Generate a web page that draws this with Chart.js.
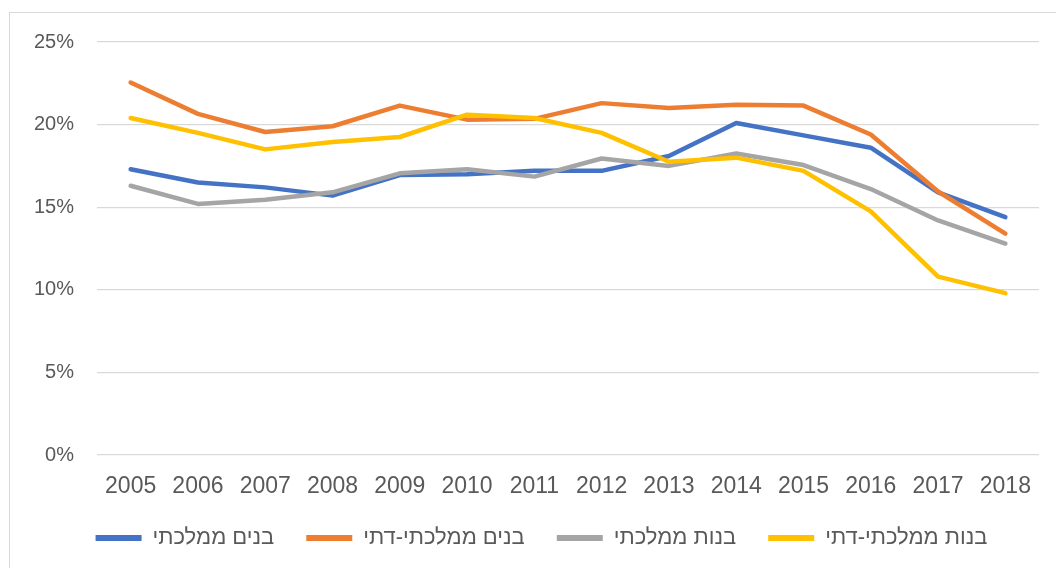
<!DOCTYPE html>
<html>
<head>
<meta charset="utf-8">
<script src="https://cdn.jsdelivr.net/npm/chart.js@4"></script>
<style>
  html, body { margin: 0; padding: 0; background: #fff; overflow: hidden; width: 1056px; height: 568px; }
  .frame { position: absolute; left: 9px; top: 12px; width: 1100px; height: 600px; border: 1px solid #d9d9d9; }
  #chartContainer { position: absolute; left: 10px; top: 13px; }
</style>
</head>
<body>
<div class="frame"></div>
<canvas id="chartContainer" width="1063" height="555"></canvas>
<script>
const years = ['2005', '2006', '2007', '2008', '2009', '2010', '2011', '2012', '2013', '2014', '2015', '2016', '2017', '2018'];

const boysState = [17.3, 16.5, 16.2, 15.7, 16.95, 17.0, 17.2, 17.2, 18.1, 20.1, 19.35, 18.6, 15.9, 14.4];
const boysReligious = [22.55, 20.65, 19.55, 19.9, 21.15, 20.3, 20.35, 21.3, 21.0, 21.2, 21.15, 19.4, 15.95, 13.4];
const girlsState = [16.3, 15.2, 15.45, 15.9, 17.05, 17.3, 16.85, 17.95, 17.5, 18.25, 17.55, 16.1, 14.2, 12.8];
const girlsReligious = [20.4, 19.5, 18.5, 18.95, 19.25, 20.6, 20.4, 19.5, 17.75, 18.0, 17.2, 14.75, 10.8, 9.8];

const seriesNames = ['בנים ממלכתי', 'בנים ממלכתי-דתי', 'בנות ממלכתי', 'בנות ממלכתי-דתי'];
const seriesColors = ['#4472C4', '#ED7D31', '#A5A5A5', '#FFC000'];

const yTicks = [0, 5, 10, 15, 20, 25];

const FONT = "'Liberation Sans', Arial, sans-serif";
const TEXT_COLOR = '#595959';

function makeDataset(i, values) {
  return {
    label: seriesNames[i],
    data: values,
    borderColor: seriesColors[i],
    backgroundColor: seriesColors[i],
    borderWidth: 4.5,
    borderCapStyle: 'round',
    borderJoinStyle: 'round',
    pointRadius: 0,
    tension: 0,
    // later series sit on top, like in the original
    order: 3 - i,
  }
}

const container = document.getElementById('chartContainer');
new Chart(container, {
  type: 'line',
  data: {
    labels: years,
    datasets: [
      makeDataset(0, boysState),
      makeDataset(1, boysReligious),
      makeDataset(2, girlsState),
      makeDataset(3, girlsReligious),
    ]
  },
  options: {
    responsive: false,
    animation: false,
    layout: {
      padding: { top: 29, right: 0, bottom: 9, left: 0 }
    },
    plugins: {
      legend: {
        position: 'bottom',
        labels: {
          usePointStyle: true,
          pointStyle: 'line',
          pointStyleWidth: 46,
          padding: 32,
          color: TEXT_COLOR,
          font: { family: FONT, size: 22 },
          sort: (a, b) => a.datasetIndex - b.datasetIndex,
          generateLabels: (chart) => Chart.defaults.plugins.legend.labels.generateLabels(chart)
            .map(item => ({ ...item, lineWidth: 6 })),
        }
      },
      tooltip: { enabled: false },
    },
    scales: {
      x: {
        offset: true,
        grid: { display: false },
        border: { display: false },
        ticks: {
          color: TEXT_COLOR,
          padding: 10,
          maxRotation: 0,
          font: { family: FONT, size: 23 },
        },
        afterFit: (scale) => { scale.height = 40 },
      },
      y: {
        min: 0,
        max: 25,
        afterBuildTicks: (scale) => { scale.ticks = yTicks.map(v => ({ value: v })) },
        grid: {
          color: '#d9d9d9',
          lineWidth: 1.3,
          drawTicks: true,
          tickLength: 23,
          tickColor: 'rgba(0,0,0,0)',
        },
        border: { display: false },
        ticks: {
          color: TEXT_COLOR,
          padding: 0,
          font: { family: FONT, size: 20 },
          callback: (v) => v + '%',
        },
        afterFit: (scale) => { scale.width = 87 },
      },
      // empty right margin, keeps the legend centred on the whole frame
      spacer: {
        type: 'linear',
        position: 'right',
        grid: { display: false },
        border: { display: false },
        ticks: { display: false },
        afterFit: (scale) => { scale.width = 34 },
      }
    }
  }
});
</script>
</body>
</html>
